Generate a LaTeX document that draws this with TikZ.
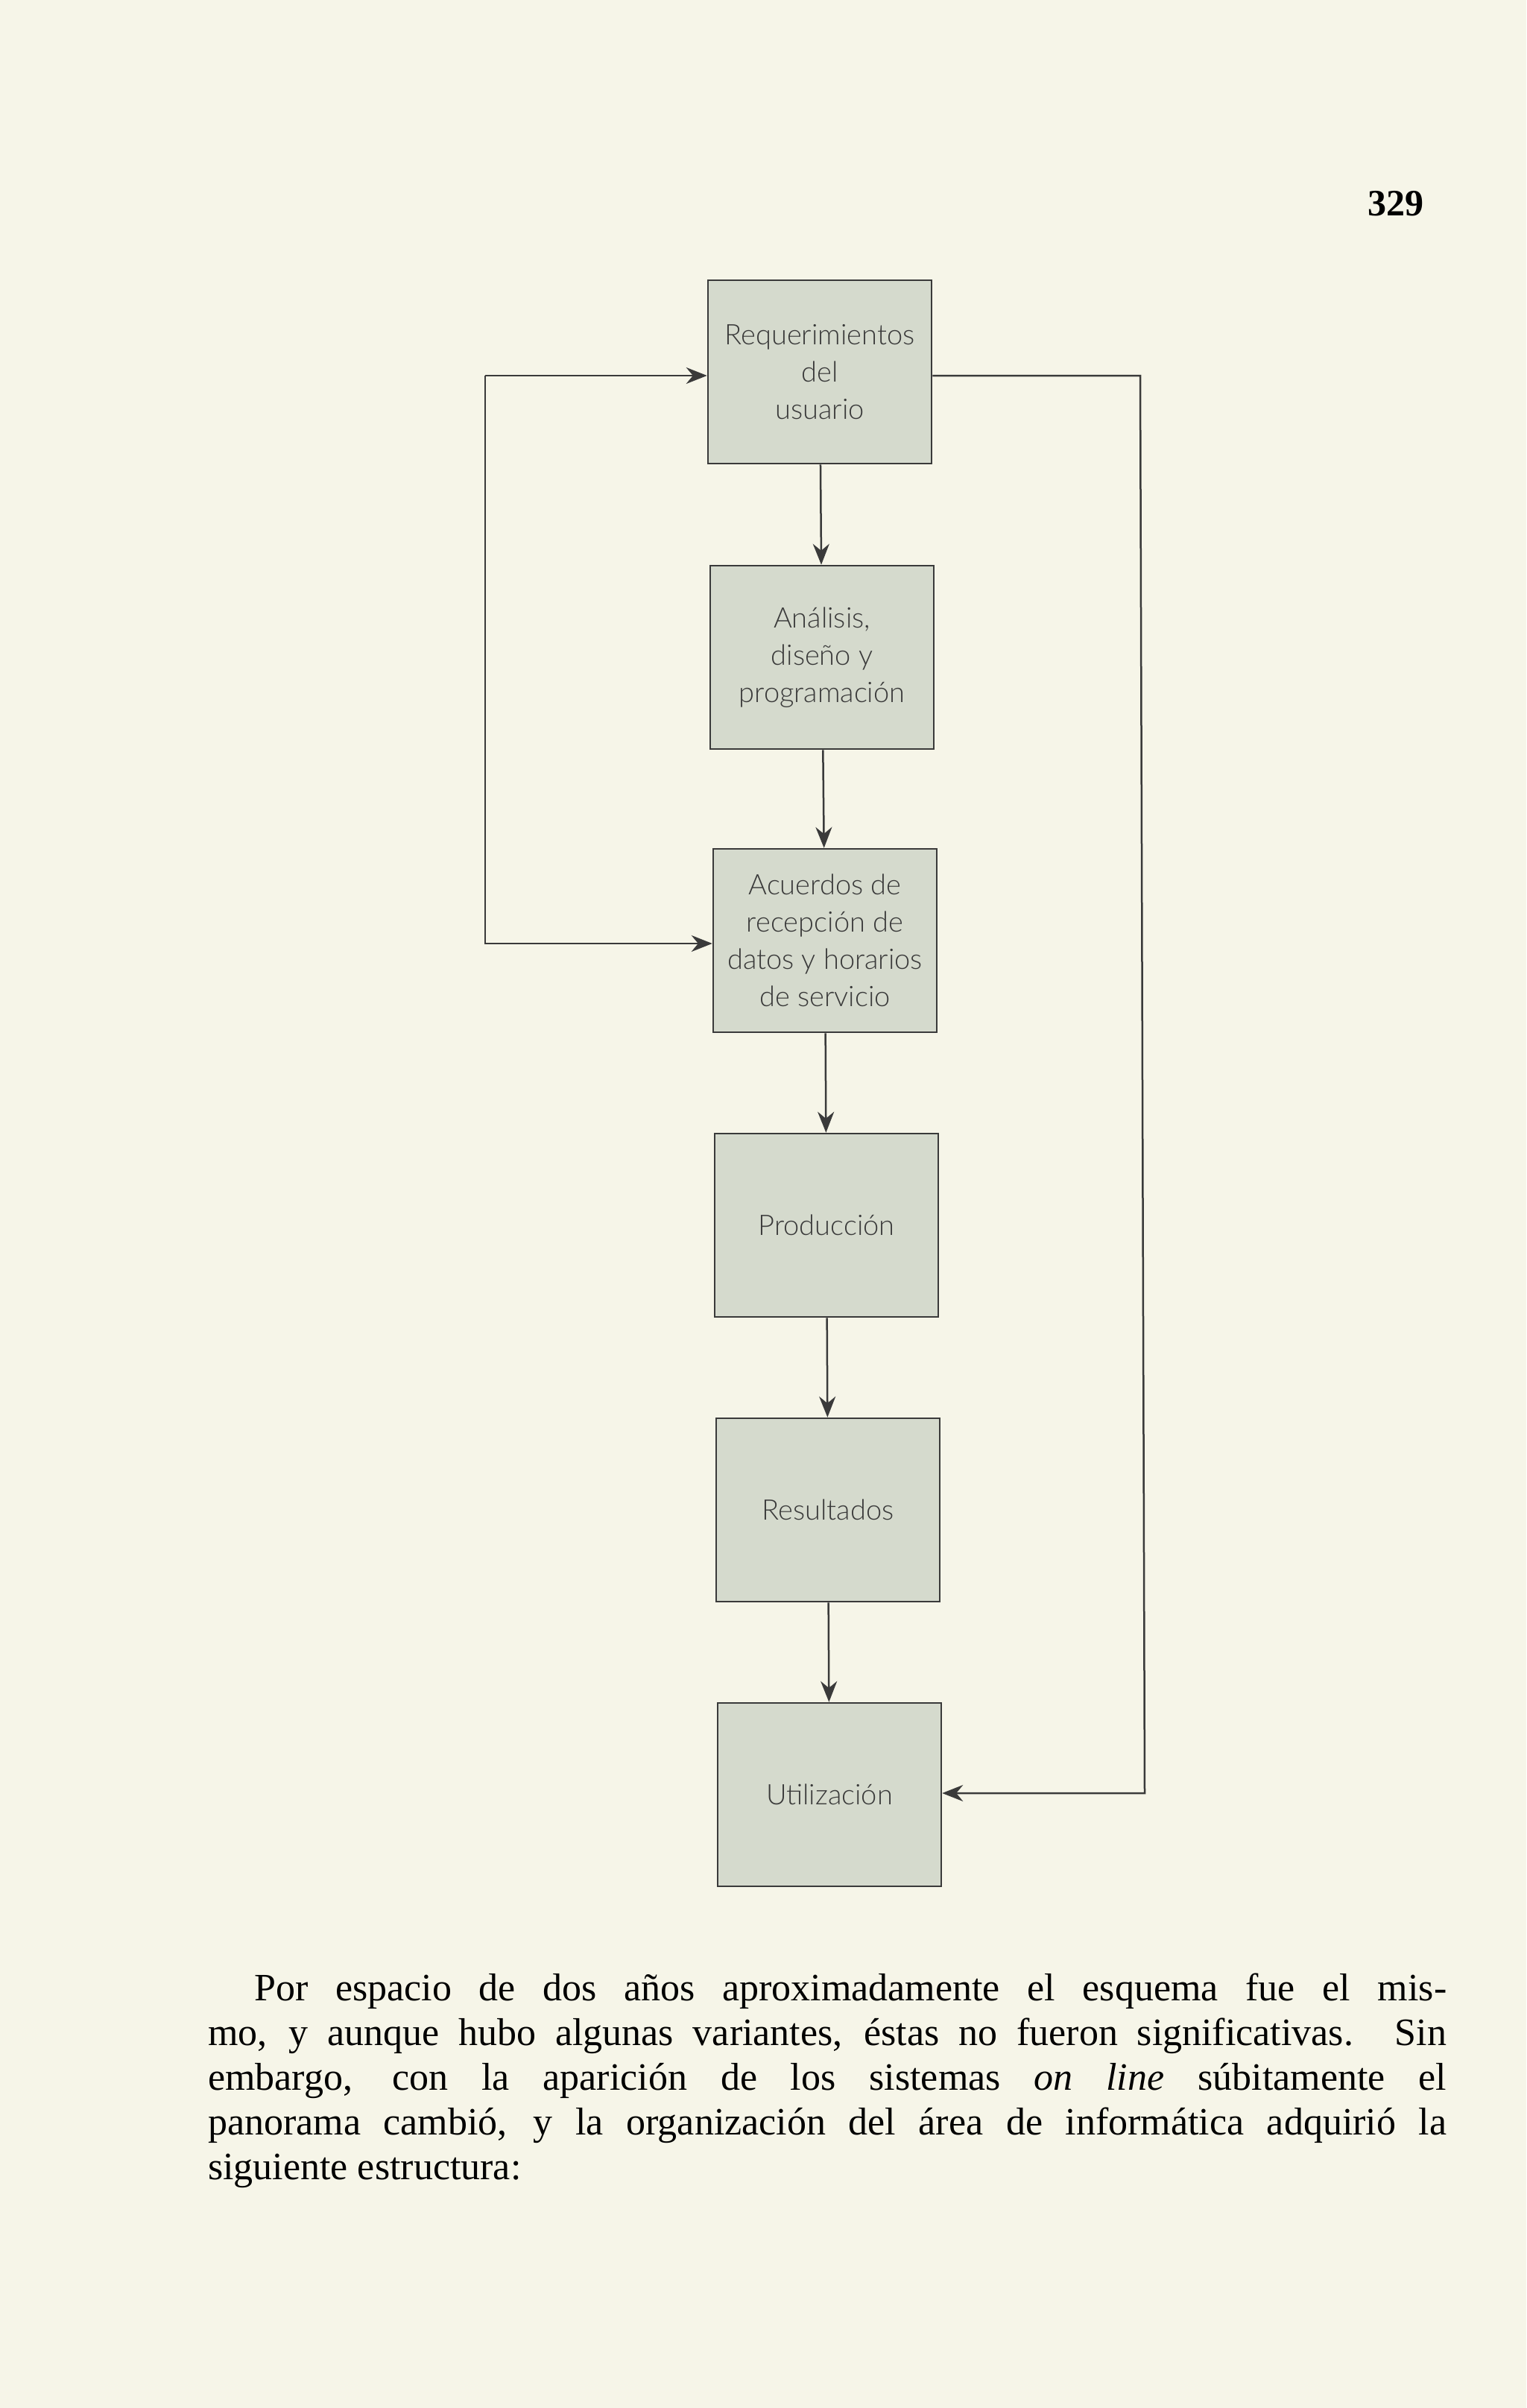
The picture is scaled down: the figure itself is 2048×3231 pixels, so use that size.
\documentclass[tikz,border=0pt]{standalone}
\usepackage{fontspec}
\setmainfont{Liberation Serif}
\newfontfamily\boxfont{Lato Light}
\usetikzlibrary{arrows.meta}
\definecolor{paper}{HTML}{F6F5E8}
\definecolor{boxfill}{HTML}{D5DACD}
\definecolor{ink}{HTML}{3A3A3A}
\begin{document}
\begin{tikzpicture}[x=1pt,y=-1pt,
 blk/.style={draw=ink,line width=2.5pt,fill=boxfill,minimum width=300pt,minimum height=246pt,
   align=center,font=\boxfont\fontsize{38}{50}\selectfont,text=ink,inner sep=0pt},
 arr/.style={draw=ink,line width=2.5pt,-{Stealth[length=28pt,width=22pt]}}]
\fill[paper] (0,0) rectangle (2048,3231);
\useasboundingbox (0,0) rectangle (2048,3231);
\node[font=\bfseries\fontsize{50}{60}\selectfont] (pg) at (1873,273) {329};
\node[blk] (r) at (1100,499) {Requerimientos\\del\\usuario};
\node[blk] (a) at (1103,882) {Análisis,\\diseño y\\programación};
\node[blk] (c) at (1107,1262) {Acuerdos de\\recepción de\\datos y horarios\\de servicio};
\node[blk] (p) at (1109,1644) {Producción};
\node[blk] (s) at (1111,2026) {Resultados};
\node[blk] (u) at (1113,2408) {Utilización};
\draw[arr] (r) -- (a);
\draw[arr] (a) -- (c);
\draw[arr] (c) -- (p);
\draw[arr] (p) -- (s);
\draw[arr] (s) -- (u);
\coordinate (l1) at (651,504);
\coordinate (l2) at (651,1266);
\draw[arr] (l1) -- (r.west |- l1);
\draw[arr] (l1) -- (l2) -- (c.west |- l2);
\coordinate (q1) at (1530,504);
\coordinate (q2) at (1536,2406);
\draw[arr] (r.east |- q1) -- (q1) -- (q2) -- (u.east |- q2);
\node[anchor=north west,text width=1662pt,align=justify,inner sep=0pt,
 font=\fontsize{52}{60}\selectfont] (txt) at (279,2648) {\hspace*{62pt}Por espacio de dos años aproximadamente el esquema fue el mis-\linebreak mo, y aunque hubo algunas variantes, éstas no fueron significativas. Sin\linebreak embargo, con la aparición de los sistemas \textit{on line} súbitamente el\linebreak panorama cambió, y la organización del área de informática adquirió la\linebreak siguiente estructura:};
\end{tikzpicture}
\end{document}
